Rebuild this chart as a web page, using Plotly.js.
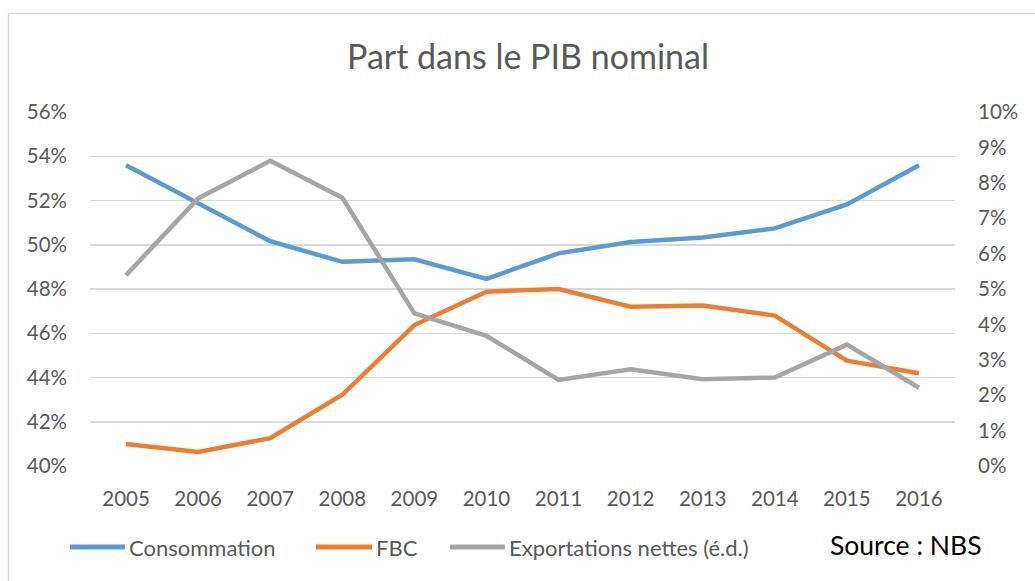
<!DOCTYPE html>
<html>
<head>
<meta charset="utf-8">
<script src="https://cdn.plot.ly/plotly-3.0.1.min.js"></script>
<style>
  html, body { margin: 0; padding: 0; background: #fff; }
  #chart { width: 1035px; height: 581px; }
</style>
</head>
<body>
<div id="chart"></div>
<script>
const years = ['2005','2006','2007','2008','2009','2010','2011','2012','2013','2014','2015','2016'];
const consommation = [0.5359, 0.5189, 0.5016, 0.4923, 0.4934, 0.4846, 0.4961, 0.5012, 0.5033, 0.5074, 0.5182, 0.5359];
const fbc = [0.4099, 0.4063, 0.4126, 0.4322, 0.4637, 0.4788, 0.4800, 0.4720, 0.4725, 0.4680, 0.4476, 0.4419];
const exportations = [0.0539, 0.0756, 0.0862, 0.0758, 0.0431, 0.0368, 0.0243, 0.0273, 0.0245, 0.0250, 0.0343, 0.0221];
const seriesNames = ['Consommation', 'FBC', 'Exportations nettes (é.d.)'];
const seriesColors = ['#5B9BD5', '#ED7D31', '#A5A5A5'];
const titleText = 'Part dans le PIB nominal';
const sourceText = 'Source : NBS';

const FONT = 'Lato, "Open Sans", sans-serif';
const W = 1035, H = 581;
const M = { l: 90, r: 80, t: 112, b: 115 };
const pw = W - M.l - M.r, ph = H - M.t - M.b;
const px2x = p => (p - M.l) / pw;
const py2y = p => (H - M.b - p) / ph;

const traces = [
  { x: years, y: consommation, name: seriesNames[0], type: 'scatter', mode: 'lines',
    line: { color: seriesColors[0], width: 4.5 }, yaxis: 'y' },
  { x: years, y: fbc, name: seriesNames[1], type: 'scatter', mode: 'lines',
    line: { color: seriesColors[1], width: 4.5 }, yaxis: 'y' },
  { x: years, y: exportations, name: seriesNames[2], type: 'scatter', mode: 'lines',
    line: { color: seriesColors[2], width: 4.5 }, yaxis: 'y2' }
];

// custom legend (Excel style: long line sample followed by text)
const legendSamples = [[70, 125], [316, 372], [450, 505]];
const legendTextX = [127, 374, 507];
const legendY = 547;
const shapes = [
  { type: 'line', xref: 'paper', yref: 'paper', x0: px2x(8), x1: px2x(1040), y0: py2y(13.5), y1: py2y(13.5),
    line: { color: '#D9D9D9', width: 1.5 } },
  { type: 'line', xref: 'paper', yref: 'paper', x0: px2x(8.5), x1: px2x(8.5), y0: py2y(13.5), y1: py2y(590),
    line: { color: '#D9D9D9', width: 1.5 } }
];
const annotations = [];
seriesNames.forEach((n, i) => {
  shapes.push({ type: 'line', xref: 'paper', yref: 'paper',
    x0: px2x(legendSamples[i][0]), x1: px2x(legendSamples[i][1]),
    y0: py2y(legendY), y1: py2y(legendY),
    line: { color: seriesColors[i], width: 5 } });
  annotations.push({ xref: 'paper', yref: 'paper', x: px2x(legendTextX[i]), y: py2y(legendY),
    xanchor: 'left', yanchor: 'middle', showarrow: false, text: n,
    font: { family: FONT, size: 22, color: '#595959' } });
});
annotations.push({ xref: 'paper', yref: 'paper', x: px2x(906), y: py2y(545),
  xanchor: 'center', yanchor: 'middle', showarrow: false, text: sourceText,
  font: { family: FONT, size: 26.5, color: '#000000' } });

const layout = {
  width: W, height: H,
  margin: M,
  paper_bgcolor: '#FFFFFF', plot_bgcolor: '#FFFFFF',
  showlegend: false,
  title: { text: titleText, x: px2x(528), xref: 'paper', xanchor: 'center', y: 1 - 57 / H, yanchor: 'middle',
    font: { family: FONT, size: 34, color: '#595959' } },
  font: { family: FONT, size: 20.5, color: '#595959' },
  xaxis: { type: 'category', range: [-0.5, years.length - 0.5], showgrid: false, zeroline: false, showline: false, ticks: '',
    tickfont: { family: FONT, size: 20.5, color: '#595959' }, ticklabelstandoff: 18,
    fixedrange: true },
  yaxis: { range: [0.40, 0.56], dtick: 0.02, tick0: 0.40, tickformat: '.0%',
    showgrid: true, gridcolor: '#D9D9D9', gridwidth: 1.5, zeroline: false, showline: false, ticks: '',
    tickfont: { family: FONT, size: 20.5, color: '#595959' }, ticklabelstandoff: 22 },
  yaxis2: { range: [0, 0.10], dtick: 0.01, tick0: 0, tickformat: '.0%', overlaying: 'y', side: 'right',
    showgrid: false, zeroline: false, showline: false, ticks: '',
    tickfont: { family: FONT, size: 20.5, color: '#595959' }, ticklabelstandoff: 22 },
  shapes: shapes,
  annotations: annotations
};

Plotly.newPlot('chart', traces, layout, { displayModeBar: false, staticPlot: true });
</script>
</body>
</html>
